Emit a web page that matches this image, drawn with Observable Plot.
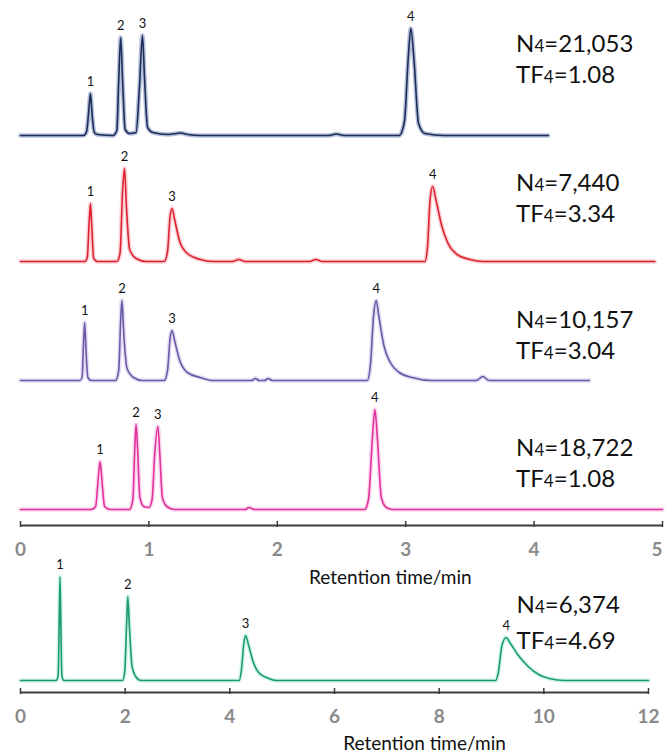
<!DOCTYPE html>
<html>
<head>
<meta charset="utf-8">
<script src="https://cdn.jsdelivr.net/npm/d3@7"></script>
<script src="https://cdn.jsdelivr.net/npm/@observablehq/plot@0.6"></script>
<style>
  html, body { margin: 0; padding: 0; background: #fff; }
  #wrap { position: relative; width: 666px; height: 755px; overflow: hidden; font-family: Lato, "Open Sans", sans-serif; }
  #wrap svg { position: absolute; left: 0; background: transparent; }
</style>
</head>
<body>
<div id="wrap"></div>
<script>
// ---------- data ----------
// retention time (min), detector signal (arbitrary units)
const blueTrace = [[0,0],[0.49,0],[0.515,4],[0.53,22],[0.545,42],[0.558,20],[0.575,3],[0.6,1],[0.72,0],[0.75,5],[0.765,55],[0.78,98],[0.795,55],[0.815,6],[0.85,2],[0.9,3],[0.925,45],[0.95,100],[0.965,60],[0.99,8],[1.03,3],[1.15,1],[1.25,2.5],[1.3,1],[1.4,0],[2.4,0],[2.46,1.5],[2.52,0],[2.95,0],[2.99,14],[3.02,78],[3.04,107],[3.065,75],[3.1,12],[3.15,2],[3.3,0],[4.11,0]];
const redTrace = [[0,0],[0.5,0],[0.52,4],[0.535,40],[0.545,58],[0.555,35],[0.57,3],[0.6,0],[0.75,0],[0.775,8],[0.795,70],[0.81,93],[0.825,55],[0.85,12],[0.9,3],[0.98,0],[1.12,0],[1.145,10],[1.165,45],[1.18,53],[1.2,42],[1.24,20],[1.3,8],[1.4,2],[1.5,0],[1.65,0],[1.7,2],[1.75,0],[2.25,0],[2.3,2],[2.35,0],[3.15,0],[3.17,15],[3.19,62],[3.21,75],[3.235,62],[3.28,36],[3.33,18],[3.4,7],[3.5,2],[3.6,0],[4.94,0]];
const purpleTrace = [[0,0],[0.46,0],[0.48,3],[0.49,35],[0.5,58],[0.51,30],[0.525,3],[0.55,0],[0.74,0],[0.765,10],[0.78,60],[0.79,80],[0.805,45],[0.83,12],[0.88,3],[0.95,0],[1.12,0],[1.145,10],[1.165,42],[1.18,50],[1.2,40],[1.24,20],[1.3,8],[1.4,3],[1.5,0],[1.8,0],[1.83,2],[1.86,0],[1.9,0],[1.93,2],[1.96,0],[2.7,0],[2.725,15],[2.75,65],[2.77,80],[2.79,65],[2.83,35],[2.88,18],[2.95,8],[3.05,3],[3.2,0],[3.55,0],[3.6,4],[3.65,0],[4.43,0]];
const pinkTrace = [[0,0],[0.55,0],[0.585,3],[0.605,30],[0.62,48],[0.635,28],[0.655,3],[0.7,0],[0.85,0],[0.875,10],[0.89,60],[0.9,85],[0.912,60],[0.93,12],[0.96,3],[1.0,2],[1.025,10],[1.045,55],[1.07,83],[1.085,55],[1.105,12],[1.14,3],[1.2,0],[1.75,0],[1.78,2],[1.82,0],[2.68,0],[2.71,10],[2.74,70],[2.76,100],[2.78,70],[2.81,12],[2.85,2],[2.9,0],[5,0]];
const greenTrace = [[0,0],[0.68,0],[0.72,5],[0.74,60],[0.755,104],[0.77,60],[0.79,5],[0.83,0],[1.95,0],[1.99,8],[2.03,60],[2.05,84],[2.08,55],[2.13,15],[2.2,4],[2.3,0],[4.18,0],[4.22,10],[4.27,38],[4.3,45],[4.36,35],[4.45,18],[4.55,8],[4.7,3],[4.9,0],[9.08,0],[9.13,8],[9.2,35],[9.28,43],[9.35,38],[9.5,26],[9.7,14],[9.9,6],[10.1,2],[10.4,0],[12,0]];

// peak apexes [retention time, signal] for peaks 1..4
const bluePeaks = [[0.545,42],[0.78,98],[0.95,100],[3.04,107]];
const redPeaks = [[0.545,58],[0.81,93],[1.18,53],[3.21,75]];
const purplePeaks = [[0.5,58],[0.79,80],[1.18,50],[2.77,80]];
const pinkPeaks = [[0.62,48],[0.9,85],[1.07,83],[2.76,100]];
const greenPeaks = [[0.755,104],[2.05,84],[4.3,45],[9.28,43]];

const peakLabels = ["1","2","3","4"];
const plateCounts = ["21,053","7,440","10,157","18,722","6,374"];
const tailingFactors = ["1.08","3.34","3.04","1.08","4.69"];
const xTicksTop = [0,1,2,3,4,5];
const xTicksBottom = [0,2,4,6,8,10,12];
const xTitle = "Retention time/min";

// ---------- layout ----------
const FONT = "Lato, 'Open Sans', sans-serif";
const TOP_AXIS = 525;           // px of top axis line
const topBaselines = [135, 261, 380, 509];  // px from top
const topStatsY = [44, 183, 320, 448];      // px, N line centre
const colors = [
  {core: "#1d2b57", glow: "#5a74b0"},
  {core: "#dd2332", glow: "#f59aa2"},
  {core: "#6a5aa6", glow: "#c4b4e6"},
  {core: "#e0329c", glow: "#f6a6d6"},
  {core: "#1b9a6c", glow: "#9fe6d4"}
];

function traceMarks(data, off, c) {
  return [
    Plot.line(data, {x: d => d[0], y: d => off + d[1], stroke: c.glow, strokeWidth: 4.5, strokeOpacity: 0.45, curve: "monotone-x"}),
    Plot.line(data, {x: d => d[0], y: d => off + d[1], stroke: c.core, strokeWidth: 1.6, curve: "monotone-x"})
  ];
}
function labelMarks(peaks, off) {
  return Plot.text(peaks, {x: d => d[0], y: d => off + d[1], text: (d, i) => peakLabels[i], dy: -12, fontSize: 13, fill: "#111", fontFamily: FONT});
}
function statMarks(k, xPos, yN, yTF) {
  return [
    Plot.text([k], {x: () => xPos, y: () => yN, text: d => "N4=" + plateCounts[d], textAnchor: "start", fontSize: 24, fill: "#111", fontFamily: FONT}),
    Plot.text([k], {x: () => xPos, y: () => yTF, text: d => "TF4=" + tailingFactors[d], textAnchor: "start", fontSize: 24, fill: "#111", fontFamily: FONT})
  ];
}
function axisMarks(ticks) {
  return [
    Plot.ruleY([0], {stroke: "#3c3c3c", strokeWidth: 2}),
    Plot.ruleX(ticks, {x: d => d, y1: -2, y2: 4, stroke: "#3c3c3c", strokeWidth: 1.5}),
    Plot.axisX(ticks, {tickSize: 0, tickPadding: 17, tickFormat: d => String(d), fontSize: 19, fontWeight: "bold", fill: "#8a8a8a", fontFamily: FONT, label: null})
  ];
}
function subscripts(svg) {
  svg.querySelectorAll("text").forEach(t => {
    const m = t.textContent.match(/^(N|TF)4(=.*)$/);
    if (!m) return;
    t.textContent = "";
    t.appendChild(document.createTextNode(m[1]));
    const s = document.createElementNS("http://www.w3.org/2000/svg", "tspan");
    s.setAttribute("font-size", "17");
    s.textContent = "4";
    t.appendChild(s);
    t.appendChild(document.createTextNode(m[2]));
  });
}
// keep the right-most tick label inside the picture
function keepLastTickInside(svg, label) {
  svg.querySelectorAll("text").forEach(t => {
    if (t.textContent === label) t.setAttribute("text-anchor", "end");
  });
}

// ---------- top panel (0–5 min) ----------
const topTraces = [blueTrace, redTrace, purpleTrace, pinkTrace];
const topPeaks = [bluePeaks, redPeaks, purplePeaks, pinkPeaks];
const topH = 600;
const topMarks = [];
topTraces.forEach((tr, k) => {
  const off = TOP_AXIS - topBaselines[k];
  topMarks.push(...traceMarks(tr, off, colors[k]));
  topMarks.push(labelMarks(topPeaks[k], off));
  topMarks.push(...statMarks(k, 3.86, TOP_AXIS - topStatsY[k], TOP_AXIS - topStatsY[k] - 31));
});
topMarks.push(...axisMarks(xTicksTop));
topMarks.push(Plot.text([xTitle], {x: () => 2.88, y: () => 0, text: d => d, dy: 52, fontSize: 19, fill: "#111", fontFamily: FONT}));

const topPlot = Plot.plot({
  width: 666, height: topH,
  marginLeft: 20, marginRight: 4, marginTop: 0, marginBottom: topH - TOP_AXIS,
  x: {domain: [0, 5]},
  y: {domain: [0, TOP_AXIS], axis: null},
  style: {background: "transparent", fontFamily: FONT, overflow: "visible"},
  marks: topMarks
});
topPlot.style.top = "0px";
subscripts(topPlot);
keepLastTickInside(topPlot, String(xTicksTop[xTicksTop.length - 1]));

// ---------- bottom panel (0–12 min) ----------
const BOT_TOP = 555;
const BOT_AXIS = 692 - BOT_TOP;   // px inside svg
const botH = 755 - BOT_TOP;
const gOff = 692 - 680;
const bottomPlot = Plot.plot({
  width: 666, height: botH,
  marginLeft: 20, marginRight: 18, marginTop: 0, marginBottom: botH - BOT_AXIS,
  x: {domain: [0, 12]},
  y: {domain: [0, BOT_AXIS], axis: null},
  style: {background: "transparent", fontFamily: FONT, overflow: "visible"},
  marks: [
    ...traceMarks(greenTrace, gOff, colors[4]),
    labelMarks(greenPeaks, gOff),
    ...statMarks(4, 9.48, 692 - 605, 692 - 641),
    ...axisMarks(xTicksBottom),
    Plot.text([xTitle], {x: () => 7.72, y: () => 0, text: d => d, dy: 51, fontSize: 19, fill: "#111", fontFamily: FONT})
  ]
});
bottomPlot.style.top = BOT_TOP + "px";
subscripts(bottomPlot);

const wrap = document.getElementById("wrap");
wrap.appendChild(topPlot);
wrap.appendChild(bottomPlot);
</script>
</body>
</html>
